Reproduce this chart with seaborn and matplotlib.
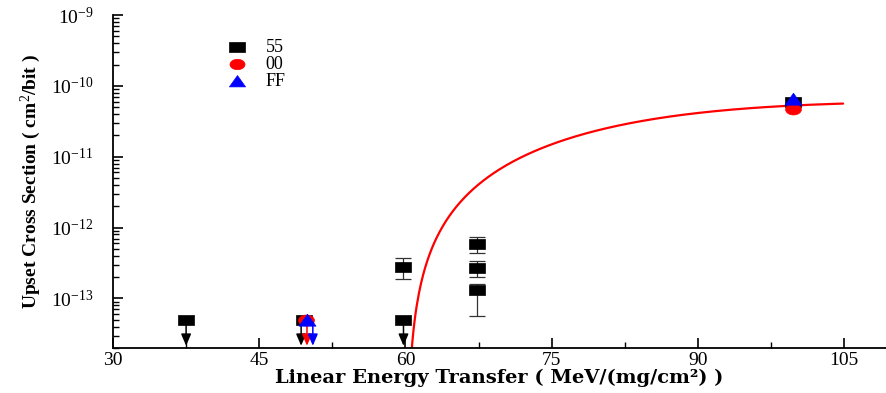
import numpy as np
import pandas as pd
import matplotlib
matplotlib.use("Agg")
import matplotlib.pyplot as plt
from matplotlib.path import Path
from matplotlib.ticker import FixedLocator, FuncFormatter, LogLocator, NullFormatter
import seaborn as sns

# ---------------- data ----------------
x55 = [37.5, 49.6, 59.8, 59.8, 67.3, 67.3, 67.3, 99.8]
y55 = [4.9e-14, 4.9e-14, 4.9e-14, 2.75e-13, 5.8e-13, 2.7e-13, 1.3e-13, 6.0e-11]
lo55 = [None, None, None, 1.86e-13, 4.4e-13, 2.0e-13, 5.6e-14, None]
hi55 = [None, None, None, 3.7e-13, 7.3e-13, 3.4e-13, 1.6e-13, None]
lim55 = [True, True, True, False, False, False, False, False]
arrx55 = [37.5, 49.3, 59.8, None, None, None, None, None]

x00 = [49.8, 99.8]
y00 = [4.9e-14, 4.7e-11]
lim00 = [True, False]
arrx00 = [49.9, None]

xFF = [49.9, 99.8]
yFF = [4.9e-14, 6.6e-11]
limFF = [True, False]
arrxFF = [50.5, None]

# Weibull fit curve parameters
fit_L0 = 60.15
fit_W = 28.0
fit_s = 2.0
fit_sat = 6.1e-11
fit_xmax = 104.9

series_labels = ["55", "00", "FF"]
x_ticks = [30, 45, 60, 75, 90, 105]
y_ticks = [1e-13, 1e-12, 1e-11, 1e-10, 1e-9]

# ---------------- style ----------------
sns.set_style("ticks")
plt.rcParams['font.family'] = ['Liberation Serif', 'DejaVu Serif']
plt.rcParams['mathtext.fontset'] = 'custom'
plt.rcParams['mathtext.rm'] = 'Liberation Serif'
plt.rcParams['mathtext.it'] = 'Liberation Serif:italic'
plt.rcParams['mathtext.bf'] = 'Liberation Serif:bold'
plt.rcParams['text.color'] = 'black'
plt.rcParams['axes.labelcolor'] = 'black'

fig = plt.figure(figsize=(8.86, 3.93), dpi=100)
ax = fig.add_axes([113/886, 1-348/393, 1-113/886, (348-15)/393])

rect = Path([(-1.5, -1), (1.5, -1), (1.5, 1), (-1.5, 1), (-1.5, -1)],
            [Path.MOVETO, Path.LINETO, Path.LINETO, Path.LINETO, Path.CLOSEPOLY])
t = np.linspace(0, 2*np.pi, 60)
ell = Path(np.column_stack([1.45*np.cos(t), np.sin(t)]))
tri = Path([(-1.5, -1), (1.5, -1), (0, 1.1), (-1.5, -1)],
           [Path.MOVETO, Path.LINETO, Path.LINETO, Path.CLOSEPOLY])

ymin, ymax = 2.0e-14, 1e-9
ax.set_yscale('log')
ax.set_xlim(30, 109.3)
ax.set_ylim(ymin, ymax)

# fit curve
xf = np.linspace(fit_L0, fit_xmax, 400)
yf = fit_sat * (1 - np.exp(-((xf - fit_L0) / fit_W) ** fit_s))
yf = np.maximum(yf, 1e-16)
sns.lineplot(x=xf, y=yf, color='#ff0000', lw=1.6, ax=ax, zorder=2, sort=False)

# error bars for series 55
for xv, yv, lo, hi in zip(x55, y55, lo55, hi55):
    if lo is not None:
        ax.errorbar([xv], [yv], yerr=[[yv - lo], [hi - yv]], fmt='none',
                    ecolor='#333333', elinewidth=0.9, capsize=6, capthick=0.9, zorder=3)

# down arrows for upper limits
def arrows(axs, ys, lims, color):
    for xv, yv, lm in zip(axs, ys, lims):
        if lm:
            ax.annotate('', xy=(xv, 2.15e-14), xytext=(xv, yv),
                        arrowprops=dict(arrowstyle='-|>,head_length=0.7,head_width=0.3',
                                        color=color, lw=1.1, shrinkA=0, shrinkB=0),
                        zorder=3)

arrows(arrx55, y55, lim55, 'black')
arrows(arrx00, y00, lim00, '#ff0000')
arrows(arrxFF, yFF, limFF, '#0000ff')

df55 = pd.DataFrame({'x': x55, 'y': y55})
df00 = pd.DataFrame({'x': x00, 'y': y00})
dfFF = pd.DataFrame({'x': xFF, 'y': yFF})
sns.scatterplot(data=df55, x='x', y='y', marker=rect, s=140, color='black',
                edgecolor='black', linewidth=0.5, ax=ax, zorder=4, label=series_labels[0])
sns.scatterplot(data=df00, x='x', y='y', marker=ell, s=130, color='#ff0000',
                edgecolor='#ff0000', linewidth=0.5, ax=ax, zorder=5, label=series_labels[1])
sns.scatterplot(data=dfFF, x='x', y='y', marker=tri, s=150, color='#0000ff',
                edgecolor='#0000ff', linewidth=0.5, ax=ax, zorder=6, label=series_labels[2])

# axes styling
sns.despine(ax=ax, top=True, right=True)
for sp in ['left', 'bottom']:
    ax.spines[sp].set_linewidth(1.3)
    ax.spines[sp].set_color('black')

ax.xaxis.set_major_locator(FixedLocator(x_ticks))
ax.xaxis.set_minor_locator(FixedLocator([37.5, 52.5, 67.5, 82.5, 97.5]))
ax.yaxis.set_major_locator(FixedLocator(y_ticks))
ax.yaxis.set_minor_locator(LogLocator(base=10, subs=np.arange(2, 10)))
ax.yaxis.set_minor_formatter(NullFormatter())
ax.yaxis.set_major_formatter(FuncFormatter(
    lambda v, p: r'$\mathregular{10^{%d}}$' % int(round(np.log10(v)))))
ax.xaxis.set_major_formatter(FuncFormatter(lambda v, p: '%d' % v))

ax.tick_params(axis='both', which='major', direction='in', length=7, width=1.2,
               labelsize=14, colors='black', pad=3)
ax.tick_params(axis='both', which='minor', direction='in', length=4, width=1.0,
               colors='black')
ax.tick_params(axis='y', which='major', pad=14)

ax.set_xlabel('Linear Energy Transfer ( MeV/(mg/cm\u00b2) )',
              fontsize=14, fontweight='bold', labelpad=0, color='black',
              family=['DejaVu Serif'])
ax.set_ylabel(r'Upset Cross Section ( cm$^2$/bit )', fontsize=14,
              fontweight='bold', labelpad=6, color='black')
ax.grid(False)

leg = ax.legend(loc='upper left', bbox_to_anchor=(0.125, 0.955), frameon=False,
                fontsize=13, handletextpad=0.6, labelspacing=0.0, borderpad=0,
                markerscale=0.95)
for txt in leg.get_texts():
    txt.set_color('black')

fig.savefig('out.png', dpi=100)
